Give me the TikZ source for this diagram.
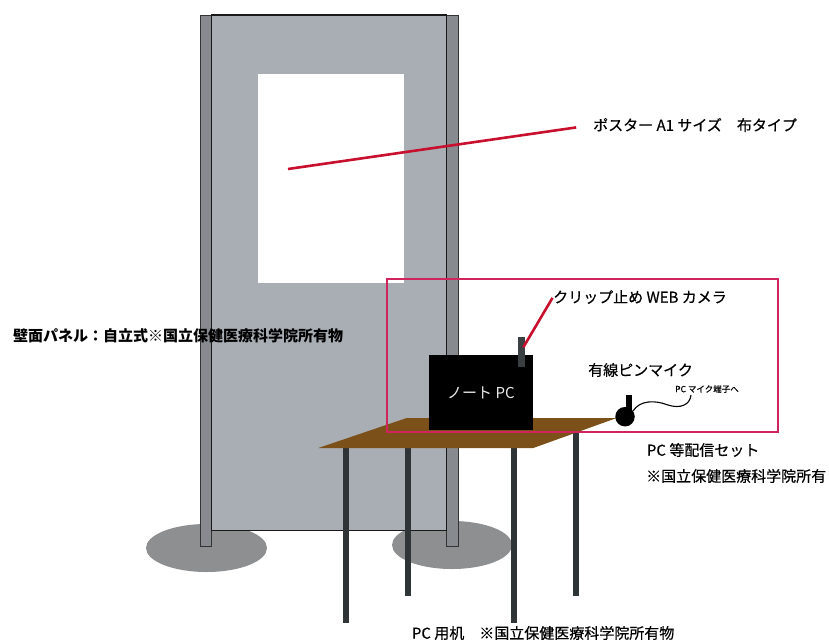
\documentclass[tikz,border=0pt]{standalone}
\usepackage{fontspec}
\setmainfont{Noto Sans CJK JP}
\newfontfamily\medfont{Noto Sans CJK JP}[FakeBold=0.5]
\begin{document}
\definecolor{panelgray}{HTML}{A9AEB5}
\definecolor{postgray}{HTML}{878B8F}
\definecolor{basegray}{HTML}{8D8F91}
\definecolor{deskbrown}{HTML}{7C5019}
\definecolor{leggray}{HTML}{2F3436}
\definecolor{camgray}{HTML}{3A3F42}
\definecolor{pointer}{HTML}{C8102E}
\definecolor{framered}{HTML}{D2245C}
\begin{tikzpicture}[x=1pt,y=-1pt,
  label/.style={inner sep=0pt,anchor=west,font=\medfont\fontsize{15}{18}\selectfont},
  boldlabel/.style={inner sep=0pt,anchor=west,font=\fontsize{15}{18}\selectfont\bfseries},
  pointerline/.style={draw=pointer,line width=2.6pt},
  post/.style={fill=postgray,draw=black!80,line width=0.6pt},
  leg/.style={fill=leggray,draw=none}]
\useasboundingbox (0,0) rectangle (829,642);

% floor bases of the panel
\fill[basegray] (206.5,548) ellipse [x radius=60.5,y radius=24];
\fill[basegray] (452,545) ellipse [x radius=60,y radius=24];

% side posts and panel board
\draw[post] (200,15) rectangle (211.7,546);
\draw[post] (446.5,15) rectangle (458.5,546);
\draw[fill=panelgray,draw=black!90,line width=1.5pt] (211.7,15) rectangle (446.5,530.5);

% poster on the board
\fill[white] (257.7,74) rectangle (404,283);
\coordinate (posterpt) at (288,169);

% desk legs
\fill[leg] (342.7,440) rectangle (348.7,623);
\fill[leg] (405.3,420) rectangle (411.3,596);
\fill[leg] (510.7,440) rectangle (516.7,623);
\fill[leg] (573.3,420) rectangle (579.3,596);

% desk top
\fill[deskbrown] (406.7,418) -- (616.7,418) -- (533.3,448) -- (318.3,448) -- cycle;

% notebook PC
\node[fill=black,minimum width=103.3pt,minimum height=75pt,inner sep=0pt,anchor=north west,
      text=white!92!black,font=\fontsize{15}{18}\selectfont] (pc) at (429,355) {ノート PC};

% web camera clipped to the screen
\node[fill=camgray,minimum width=7.3pt,minimum height=30pt,inner sep=0pt,anchor=north west] (cam) at (517.7,336.7) {};
\coordinate (camtip) at (523.3,347.3);

% pin microphone and its cable
\fill[black] (626,395) rectangle (631.7,412);
\node[circle,fill=black,minimum size=19.5pt,inner sep=0pt] (mic) at (625,416.7) {};
\coordinate (cablestart) at (633,411);
\coordinate (cableend) at (691,395);
\draw[black,line width=1.1pt] (cablestart) .. controls (640,400) and (655,400) .. (668,405)
  .. controls (680,409) and (690,405) .. (cableend);

% frame around the streaming set
\draw[framered,line width=2pt] (386.7,279.3) rectangle (778.3,432.3);

% labels
\node[label] (posterlbl) at (593,125) {ポスター A1 サイズ　布タイプ};
\draw[pointerline,shorten >=17pt] (posterpt) -- (posterlbl.west);

\node[label] (camlbl) at (553,297) {クリップ止め WEB カメラ};
\draw[pointerline,shorten >=1pt] (camtip) -- (camlbl.west);

\node[label] (miclbl) at (588,370) {有線ピンマイク};
\node[inner sep=0pt,anchor=west,font=\medfont\fontsize{8.5}{10}\selectfont] (jacklbl) at (675,389) {PC マイク端子へ};

\node[label] (setlbl) at (646.7,450) {PC 等配信セット};
\node[label] (setown) at (646,476) {※国立保健医療科学院所有};

\node[boldlabel] (panellbl) at (13,336) {壁面パネル：自立式※国立保健医療科学院所有物};

\node[label] (desklbl) at (411.7,633) {PC 用机　※国立保健医療科学院所有物};
\end{tikzpicture}
\end{document}
